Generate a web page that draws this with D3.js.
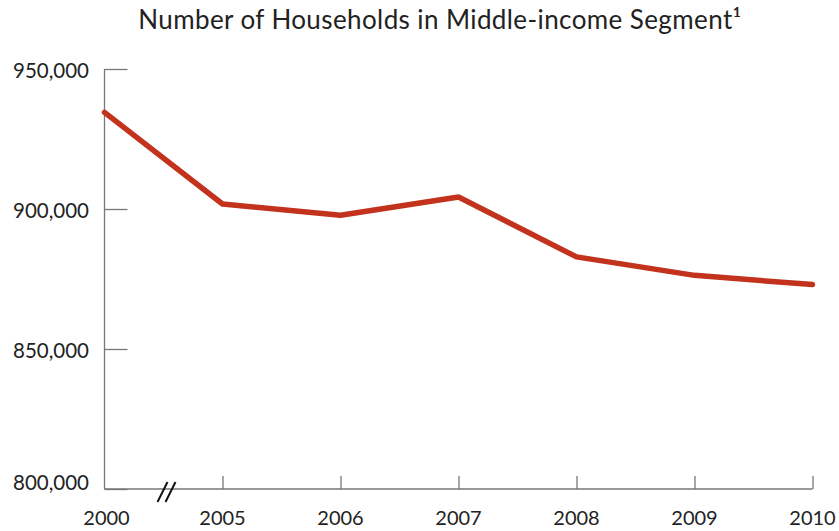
<!DOCTYPE html>
<html><head><meta charset="utf-8">
<script src="https://cdn.jsdelivr.net/npm/d3@7"></script>
<style>body{margin:0;background:#fff}svg{display:block}text{font-family:Lato,"Noto Sans",sans-serif;fill:#222}</style>
</head><body>
<script>
const years = ["2000","2005","2006","2007","2008","2009","2010"];
const households = [934500, 901800, 897800, 904300, 882900, 876300, 873000];
const yTicks = [800000, 850000, 900000, 950000];
const title = "Number of Households in Middle-income Segment\u00b9";

const W = 839, H = 531;
const svg = d3.select("body").append("svg").attr("width", W).attr("height", H);
const x = d3.scalePoint().domain(years).range([104.5, 812.5]);
const y = d3.scaleLinear().domain([800000, 950000]).range([489, 69]);
const fmt = d3.format(",");

svg.append("text").attr("x", 440).attr("y", 29).attr("text-anchor", "middle")
  .style("font-size", "26px").style("letter-spacing", "0.4px").text(title);

// Y axis
const yAxis = svg.append("g").attr("transform", "translate(104.5,0)")
  .call(d3.axisRight(y).tickValues(yTicks).tickSize(23).tickFormat(""));
yAxis.select(".domain").remove();
yAxis.selectAll("line").attr("stroke", "#777").attr("stroke-width", 1.3);
svg.append("line").attr("x1", 104.5).attr("x2", 104.5).attr("y1", y(950000)).attr("y2", y(800000))
  .attr("stroke", "#777").attr("stroke-width", 1.3);
svg.selectAll(".ylab").data(yTicks).join("text").attr("class", "ylab")
  .attr("x", 89).attr("y", d => d === 800000 ? y(d) - 6 : y(d) + 2)
  .attr("dy", "0.35em").attr("text-anchor", "end").style("font-size", "20.5px")
  .text(d => fmt(d));

// X axis
const xAxis = svg.append("g").attr("transform", `translate(0,${y(800000)})`)
  .call(d3.axisTop(x).tickValues(years.slice(1)).tickSize(13).tickFormat(""));
xAxis.select(".domain").remove();
xAxis.selectAll("line").attr("stroke", "#777").attr("stroke-width", 1.3);
svg.append("line").attr("x1", 104.5).attr("x2", x("2010")).attr("y1", y(800000)).attr("y2", y(800000))
  .attr("stroke", "#777").attr("stroke-width", 1.3);
svg.selectAll(".xlab").data(years).join("text").attr("class", "xlab")
  .attr("x", (d, i) => x(d) + (i === 0 ? 2 : 0)).attr("y", 525)
  .attr("text-anchor", "middle").style("font-size", "20px").text(d => d);

// break mark
const bx = (x("2000") + x("2005")) / 2 + 3, by = y(800000) + 3;
[-4, 4].forEach(o => {
  svg.append("line").attr("x1", bx + o - 5).attr("y1", by + 10).attr("x2", bx + o + 5).attr("y2", by - 10)
    .attr("stroke", "#111").attr("stroke-width", 2);
});

// line
svg.append("path").datum(households.map((v, i) => [years[i], v]))
  .attr("fill", "none").attr("stroke", "#c2321c").attr("stroke-width", 5.5)
  .attr("stroke-linejoin", "round").attr("stroke-linecap", "round")
  .attr("d", d3.line().x(d => x(d[0])).y(d => y(d[1])));
</script>
</body></html>
